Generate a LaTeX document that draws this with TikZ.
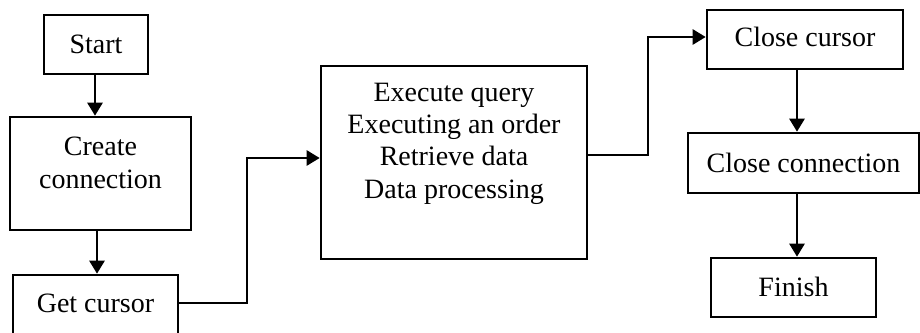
\documentclass[tikz,border=0pt]{standalone}
\usepackage{fontspec}
\setmainfont{Liberation Serif}
\usetikzlibrary{arrows.meta}
\begin{document}
\begin{tikzpicture}[x=1pt,y=-1pt,
  box/.style={draw,line width=2.6pt,rectangle,inner sep=0pt},
  lbl/.style={font=\fontsize{28pt}{32.3pt}\selectfont,align=center,inner sep=0pt},
  conn/.style={line width=2.6pt,-{Triangle[length=13pt,width=15pt]}}]
\useasboundingbox (0,0) rectangle (920,332);
% boxes
\node[box,minimum width=104pt,minimum height=59pt] (start) at (96,44.5) {};
\node[box,minimum width=181pt,minimum height=113pt] (create) at (100.5,173.5) {};
\node[box,minimum width=165pt,minimum height=60pt] (get) at (95.5,305) {};
\node[box,minimum width=266pt,minimum height=193pt] (exec) at (454,162.5) {};
\node[box,minimum width=196pt,minimum height=59pt] (ccur) at (805,39.5) {};
\node[box,minimum width=231pt,minimum height=60pt] (ccon) at (803.5,163) {};
\node[box,minimum width=165pt,minimum height=59pt] (fin) at (793.5,287.5) {};
% labels
\node[lbl] (tstart) at (96,44) {Start};
\node[lbl] (tcreate) at (100.5,163) {Create\\connection};
\node[lbl] (tget) at (95.5,303) {Get cursor};
\node[lbl] (texec) at (454,143.5) {Execute query\\Executing an order\\Retrieve data\\Data processing};
\node[lbl] (tccur) at (805,37) {Close cursor};
\node[lbl] (tccon) at (803.5,163) {Close connection};
\node[lbl] (tfin) at (793.5,287) {Finish};
% connector helper points
\coordinate (a1) at (95,0);
\coordinate (a2) at (97,0);
\coordinate (g1) at (247,303);
\coordinate (g2) at (247,158);
\coordinate (e1) at (587,155);
\coordinate (e2) at (648,155);
\coordinate (e3) at (648,37);
\coordinate (c1) at (797,0);
% connectors
\draw[conn] (a1 |- start.south) -- (a1 |- create.north);
\draw[conn] (a2 |- create.south) -- (a2 |- get.north);
\draw[conn] (get.east |- g1) -- (g1) -- (g2) -- (exec.west |- g2);
\draw[conn] (e1) -- (e2) -- (e3) -- (ccur.west |- e3);
\draw[conn] (c1 |- ccur.south) -- (c1 |- ccon.north);
\draw[conn] (c1 |- ccon.south) -- (c1 |- fin.north);
\end{tikzpicture}
\end{document}
